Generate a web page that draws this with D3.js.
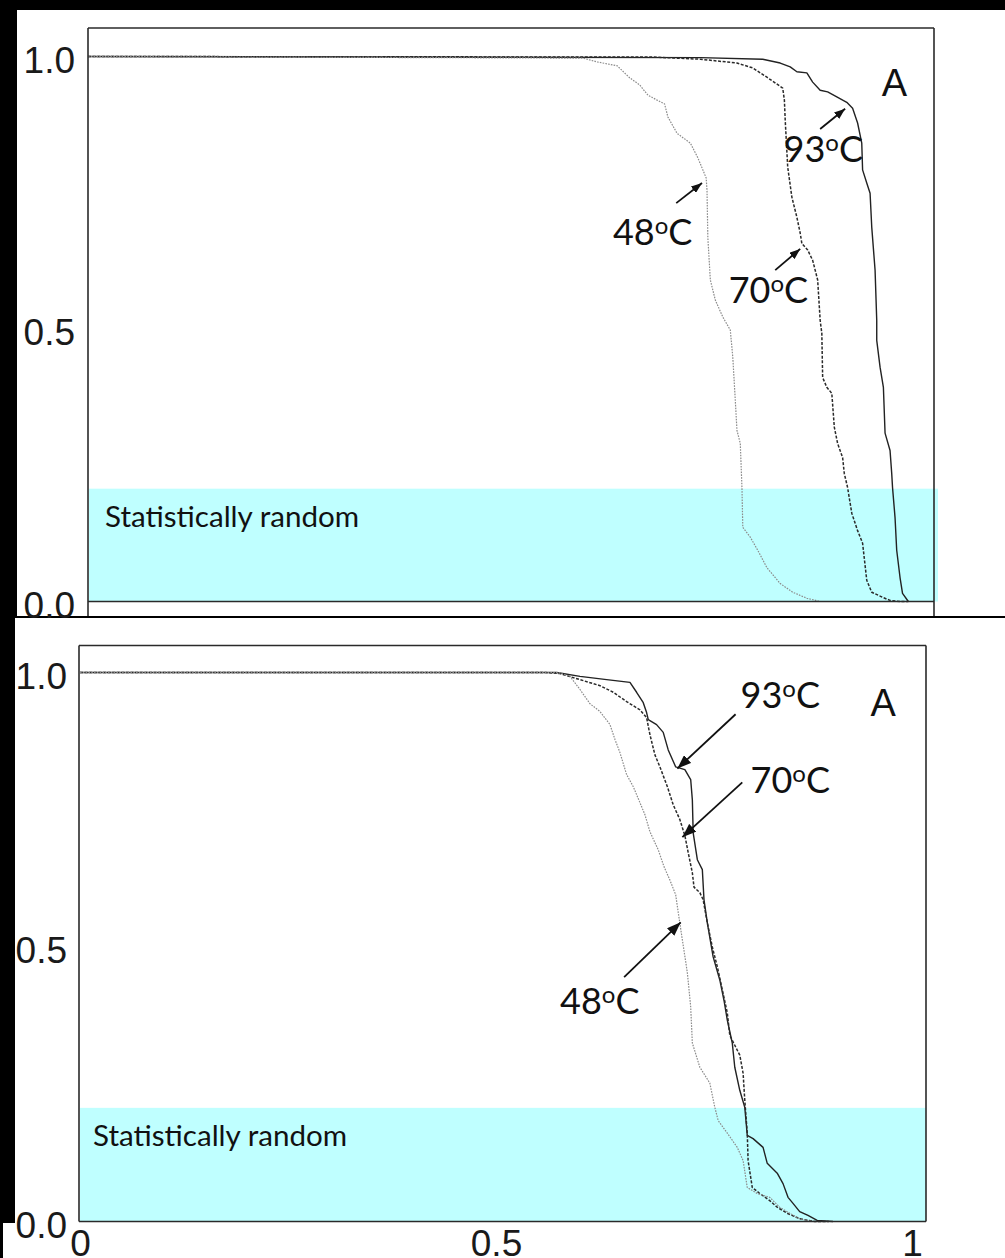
<!DOCTYPE html>
<html><head><meta charset="utf-8">
<script src="https://cdn.jsdelivr.net/npm/d3@7"></script>
<style>html,body{margin:0;padding:0;background:#000;} svg{display:block}</style>
</head><body>
<svg id="chart" width="1005" height="1258"></svg>
<script>
// ---------------- DATA ----------------
const yTicks = [0, 0.5, 1.0];
const xTicks = [0, 0.5, 1];
const seriesNames = ["48", "70", "93"];
const randomBand = [0, 0.207];
const bandLabel = "Statistically random";
const panelLetter = "A";

// Upper panel
const top48 = [[0,1],[0.595,0.997],[0.612,0.990],[0.636,0.983],[0.651,0.961],[0.663,0.948],[0.673,0.929],[0.684,0.920],[0.693,0.913],[0.697,0.889],[0.708,0.859],[0.724,0.841],[0.733,0.814],[0.739,0.792],[0.743,0.777],[0.744,0.755],[0.745,0.668],[0.748,0.590],[0.754,0.553],[0.763,0.522],[0.772,0.498],[0.775,0.448],[0.778,0.369],[0.780,0.314],[0.784,0.290],[0.786,0.209],[0.787,0.136],[0.796,0.118],[0.805,0.094],[0.816,0.062],[0.832,0.033],[0.847,0.017],[0.864,0.006],[0.880,0],[0.960,0]];
const top70 = [[0,1],[0.679,0.999],[0.736,0.995],[0.780,0.988],[0.799,0.979],[0.816,0.962],[0.835,0.942],[0.837,0.920],[0.838,0.883],[0.841,0.797],[0.846,0.742],[0.852,0.705],[0.856,0.676],[0.858,0.657],[0.865,0.645],[0.871,0.626],[0.877,0.590],[0.880,0.516],[0.882,0.492],[0.883,0.411],[0.888,0.393],[0.894,0.382],[0.897,0.320],[0.901,0.290],[0.907,0.264],[0.909,0.235],[0.913,0.209],[0.918,0.162],[0.925,0.130],[0.931,0.107],[0.936,0.039],[0.942,0.017],[0.956,0.007],[0.964,0.002],[0.976,0],[0.986,0]];
const top93 = [[0,1],[0.736,0.998],[0.811,0.995],[0.832,0.988],[0.844,0.981],[0.852,0.972],[0.864,0.970],[0.871,0.953],[0.880,0.938],[0.889,0.935],[0.900,0.926],[0.912,0.916],[0.919,0.905],[0.925,0.878],[0.930,0.841],[0.931,0.792],[0.936,0.768],[0.940,0.749],[0.942,0.687],[0.946,0.608],[0.948,0.516],[0.948,0.479],[0.952,0.430],[0.956,0.393],[0.958,0.309],[0.964,0.277],[0.966,0.235],[0.967,0.209],[0.970,0.154],[0.972,0.094],[0.976,0.044],[0.979,0.015],[0.986,0]];

// Lower panel
const bottom48 = [[0,1],[0.575,1],[0.589,0.993],[0.601,0.969],[0.613,0.943],[0.625,0.929],[0.637,0.905],[0.643,0.878],[0.649,0.854],[0.657,0.814],[0.665,0.792],[0.673,0.763],[0.679,0.741],[0.685,0.710],[0.695,0.677],[0.702,0.646],[0.709,0.622],[0.716,0.595],[0.720,0.553],[0.724,0.513],[0.730,0.453],[0.734,0.391],[0.736,0.325],[0.745,0.281],[0.757,0.252],[0.763,0.208],[0.767,0.184],[0.778,0.161],[0.790,0.135],[0.797,0.111],[0.802,0.062],[0.814,0.051],[0.829,0.044],[0.841,0.026],[0.853,0.015],[0.865,0.005],[0.881,0],[0.900,0]];
const bottom70 = [[0,1],[0.560,1],[0.577,0.998],[0.601,0.987],[0.625,0.976],[0.641,0.964],[0.657,0.947],[0.673,0.932],[0.681,0.918],[0.685,0.887],[0.691,0.850],[0.697,0.828],[0.706,0.792],[0.713,0.759],[0.721,0.732],[0.727,0.703],[0.731,0.672],[0.736,0.635],[0.738,0.609],[0.745,0.599],[0.749,0.586],[0.754,0.544],[0.760,0.500],[0.766,0.464],[0.772,0.422],[0.778,0.380],[0.781,0.339],[0.787,0.321],[0.793,0.303],[0.797,0.270],[0.799,0.221],[0.802,0.161],[0.803,0.111],[0.808,0.062],[0.817,0.051],[0.829,0.038],[0.838,0.026],[0.850,0.015],[0.865,0.005],[0.883,0],[0.900,0]];
const bottom93 = [[0,1],[0.573,1],[0.601,0.993],[0.633,0.987],[0.661,0.982],[0.669,0.964],[0.677,0.945],[0.681,0.927],[0.683,0.914],[0.693,0.905],[0.701,0.891],[0.707,0.859],[0.716,0.828],[0.727,0.823],[0.734,0.805],[0.736,0.768],[0.737,0.708],[0.742,0.659],[0.748,0.641],[0.750,0.586],[0.754,0.544],[0.761,0.482],[0.769,0.440],[0.774,0.403],[0.778,0.367],[0.784,0.325],[0.787,0.281],[0.793,0.239],[0.799,0.208],[0.802,0.157],[0.809,0.151],[0.821,0.135],[0.826,0.106],[0.838,0.088],[0.845,0.069],[0.851,0.044],[0.857,0.033],[0.865,0.018],[0.875,0.011],[0.886,0.002],[0.905,0]];

// ---------------- LAYOUT / STYLE ----------------
const styles = {
  "48": {stroke:"#8c8c8c", width:1.2, dash:"1.6,1.2"},
  "70": {stroke:"#2a2a2a", width:1.5, dash:"3,1.6"},
  "93": {stroke:"#222", width:1.4, dash:null}
};
const tickFont = "'Liberation Sans', Arial, sans-serif";
const noteFont = "Lato, 'Open Sans', sans-serif";

const panels = [
  {
    bgRects: [[17,10,988,606]],
    frame: {x0:88, y0:28, x1:934, y1:601.5, vExt:616},
    xRange: [88, 920], yRange: [601.5, 56.5],
    band: {px0:89, px1:938}, bandTextX: 105, bandTextDy: 38.5,
    showX: false,
    series: {"48": top48, "70": top70, "93": top93},
    notes: {
      "93": {text:[0.836,0.806], from:[0.880,0.867], to:[0.910,0.904]},
      "48": {text:[0.631,0.654], from:[0.707,0.731], to:[0.738,0.768]},
      "70": {text:[0.770,0.548], from:[0.826,0.608], to:[0.856,0.647]}
    },
    letter: [0.954, 0.928],
    head: 11
  },
  {
    bgRects: [[15,618,990,640],[3,1223,14,35]],
    frame: {x0:79, y0:645.5, x1:926, y1:1221.5, vExt:1221.5},
    xRange: [80, 912], yRange: [1221.5, 672.5],
    band: {px0:80, px1:926}, bandTextX: 93, bandTextDy: 38.5,
    showX: true,
    series: {"48": bottom48, "70": bottom70, "93": bottom93},
    notes: {
      "93": {text:[0.794,0.936], from:[0.788,0.924], to:[0.718,0.825]},
      "70": {text:[0.806,0.780], from:[0.796,0.800], to:[0.724,0.700]},
      "48": {text:[0.577,0.378], from:[0.654,0.445], to:[0.722,0.545]}
    },
    letter: [0.950, 0.920],
    head: 14
  }
];

// ---------------- DRAW ----------------
const svg = d3.select("#chart");
svg.append("rect").attr("width",1005).attr("height",1258).attr("fill","#000");

const defs = svg.append("defs");
[11,14].forEach(s => {
  defs.append("marker").attr("id","ah"+s)
    .attr("markerUnits","userSpaceOnUse")
    .attr("viewBox",`0 0 ${s} ${s*0.75}`)
    .attr("markerWidth", s).attr("markerHeight", s*0.75)
    .attr("refX", s).attr("refY", s*0.375).attr("orient","auto")
    .append("path").attr("d",`M0,0L${s},${s*0.375}L0,${s*0.75}Z`).attr("fill","#111");
});

panels.forEach(p => {
  const g = svg.append("g");
  p.bgRects.forEach(r => g.append("rect").attr("x",r[0]).attr("y",r[1]).attr("width",r[2]).attr("height",r[3]).attr("fill","#fff"));

  const x = d3.scaleLinear().domain([0,1]).range(p.xRange);
  const y = d3.scaleLinear().domain([0,1]).range(p.yRange);

  // band
  g.append("rect")
    .attr("x", p.band.px0).attr("width", p.band.px1 - p.band.px0)
    .attr("y", y(randomBand[1])).attr("height", y(randomBand[0]) - y(randomBand[1]))
    .attr("fill", "#bfffff");
  g.append("text").attr("x", p.bandTextX).attr("y", y(randomBand[1]) + p.bandTextDy)
    .attr("font-family", noteFont).attr("font-size", 29.6).attr("fill","#111")
    .text(bandLabel);

  // curves
  const line = d3.line().x(d => x(d[0])).y(d => y(d[1]));
  ["93","70","48"].forEach(k => {
    const st = styles[k];
    g.append("path").datum(p.series[k]).attr("d", line)
      .attr("fill","none").attr("stroke", st.stroke).attr("stroke-width", st.width)
      .attr("stroke-dasharray", st.dash).attr("stroke-linejoin","round");
  });

  // frame
  const f = p.frame;
  const fr = g.append("g").attr("stroke", "#2a2a2a").attr("stroke-width", 1.6);
  fr.append("line").attr("x1",f.x0).attr("x2",f.x1).attr("y1",f.y0).attr("y2",f.y0);
  fr.append("line").attr("x1",f.x0).attr("x2",f.x1).attr("y1",f.y1).attr("y2",f.y1);
  fr.append("line").attr("x1",f.x0).attr("x2",f.x0).attr("y1",f.y0).attr("y2",f.vExt);
  fr.append("line").attr("x1",f.x1).attr("x2",f.x1).attr("y1",f.y0).attr("y2",f.vExt);

  // y axis
  const ya = g.append("g").attr("transform",`translate(${x(0)},0)`)
    .call(d3.axisLeft(y).tickValues(yTicks).tickFormat(d3.format(".1f")).tickSize(0).tickPadding(13));
  ya.select(".domain").remove();
  ya.attr("font-family", tickFont).attr("font-size", 37);
  ya.selectAll("text").attr("dy", 15.5).attr("fill","#1a1a1a");

  if (p.showX) {
    const xa = g.append("g").attr("transform",`translate(0,${y(0)})`)
      .call(d3.axisBottom(x).tickValues(xTicks).tickFormat(d => d === 0.5 ? "0.5" : d3.format("d")(d)).tickSize(0));
    xa.select(".domain").remove();
    xa.attr("font-family", tickFont).attr("font-size", 37);
    xa.selectAll("text").attr("y", 0).attr("dy", 34.5).attr("fill","#1a1a1a");
  }

  // annotations
  seriesNames.forEach(k => {
    const n = p.notes[k];
    g.append("line").attr("x1", x(n.from[0])).attr("y1", y(n.from[1]))
      .attr("x2", x(n.to[0])).attr("y2", y(n.to[1]))
      .attr("stroke","#111").attr("stroke-width",1.8)
      .attr("marker-end",`url(#ah${p.head})`);
    const t = g.append("text").attr("x", x(n.text[0])).attr("y", y(n.text[1]))
      .attr("font-family", noteFont).attr("font-size", 36).attr("fill","#111");
    t.append("tspan").text(k);
    t.append("tspan").attr("font-size", 24).attr("dy", -11).text("o");
    t.append("tspan").attr("dy", 11).text("C");
  });

  g.append("text").attr("x", x(p.letter[0])).attr("y", y(p.letter[1]))
    .attr("font-family", tickFont).attr("font-size", 38).attr("fill","#111").text(panelLetter);
});
</script>
</body></html>
